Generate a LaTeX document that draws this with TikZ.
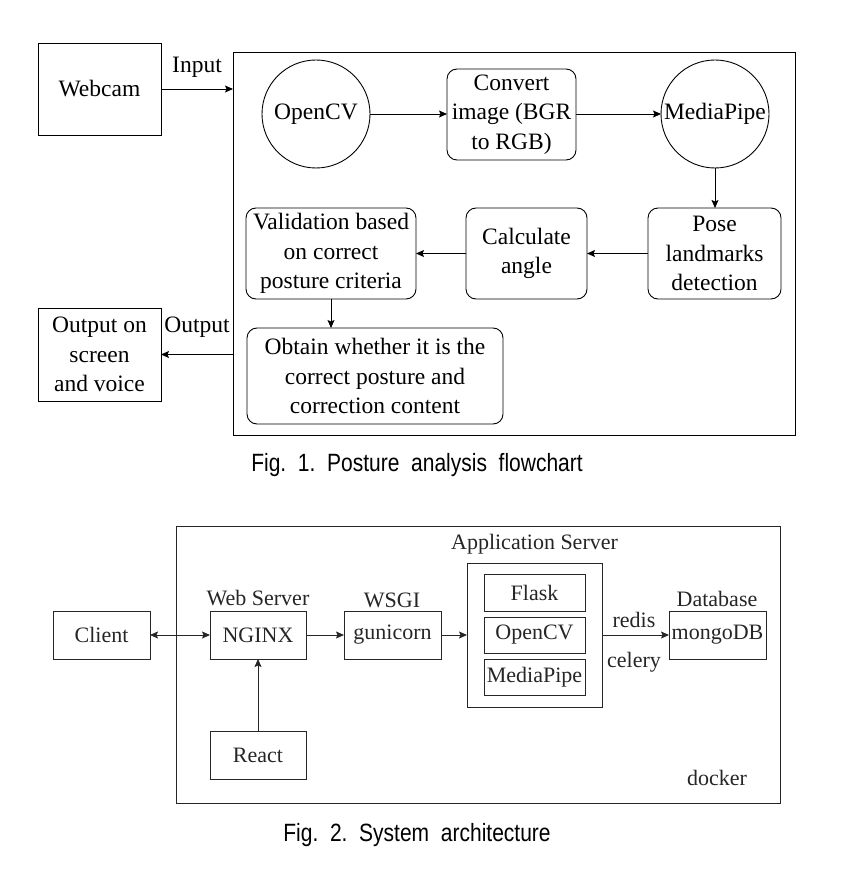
\documentclass[tikz,border=0pt]{standalone}
\usepackage{fontspec}
\setmainfont{Liberation Serif}
\newfontfamily\capfont[FakeStretch=0.84]{Liberation Sans}
\usetikzlibrary{arrows.meta,calc}
\begin{document}
\begin{tikzpicture}[x=1pt,y=-1pt,
  every node/.style={inner sep=0pt, outer sep=0pt},
  fa/.style={font=\fontsize{23.5}{29.5}\selectfont, align=center},
  fb/.style={font=\fontsize{22}{26}\selectfont, text=black!85},
  sq/.style={draw, line width=0.9pt, fa},
  rbox/.style={draw, line width=0.9pt, rounded corners=10pt, fa},
  circ/.style={draw, circle, line width=0.9pt, minimum size=108pt, fa},
  bx/.style={draw=black!85, line width=1pt, fb},
  arr/.style={line width=0.9pt, -{Stealth[length=8pt,width=7pt,inset=1.5pt]}},
  darr/.style={line width=1pt, {Stealth[length=8pt,width=7pt,inset=1.5pt]}-{Stealth[length=8pt,width=7pt,inset=1.5pt]}},
  figcap/.style={font=\capfont\fontsize{25}{28}\selectfont}
]
\useasboundingbox[fill=white] (0,0) rectangle (850,874);

% ---------- Fig. 1 ----------
\node[sq, minimum width=562pt, minimum height=383pt] (main) at (514,243.5) {};
\node[sq, minimum width=123pt, minimum height=92pt] (webcam) at (99.5,89) {Webcam};
\node[sq, minimum width=123pt, minimum height=93pt] (out) at (99.5,354.5) {Output on\\screen\\and voice};
\node[fa] (inlab) at (197,67) {Input};
\node[fa] (outlab) at (197,327) {Output};

\node[circ] (opencv) at (316,114) {OpenCV};
\node[rbox, minimum width=129pt, minimum height=91pt] (convert) at (511.5,114.5) {Convert\\image (BGR\\to RGB)};
\node[circ] (mediapipe) at (715,114) {MediaPipe};
\node[rbox, minimum width=133pt, minimum height=91pt] (pose) at (714.5,253.5) {Pose\\landmarks\\detection};
\node[rbox, minimum width=121pt, minimum height=91pt] (calc) at (526.5,253.5) {Calculate\\angle};
\node[rbox, minimum width=170pt, minimum height=91pt] (valid) at (331,253.5) {Validation based\\on correct\\posture criteria};
\node[rbox, minimum width=256pt, minimum height=96pt] (obtain) at (375,376) {Obtain whether it is the\\correct posture and\\correction content};

\draw[arr] (webcam.east) -- (webcam.east -| main.west);
\draw[arr] (out.east -| main.west) -- (out.east);
\draw[arr] (opencv.east) -- (opencv.east -| convert.west);
\draw[arr] (convert.east |- mediapipe.west) -- (mediapipe.west);
\draw[arr] (mediapipe.south) -- (mediapipe.south |- pose.north);
\draw[arr] (pose.west) -- (calc.east);
\draw[arr] (calc.west) -- (valid.east);
\draw[arr] (valid.south) -- (valid.south |- obtain.north);

\node[figcap] (cap1) at (417,465) {Fig.\ \ 1.\ \ Posture\ \ analysis\ \ flowchart};

% ---------- Fig. 2 ----------
\node[bx, minimum width=604pt, minimum height=277pt] (docker) at (478,664.5) {};
\node[bx, minimum width=97pt, minimum height=48pt] (client) at (101.5,635) {Client};
\node[bx, minimum width=96pt, minimum height=48pt] (nginx) at (258,635) {NGINX};
\node[bx, minimum width=96pt, minimum height=48pt] (react) at (258,755) {React};
\node[bx, minimum width=97pt, minimum height=48pt] (gunicorn) at (392.5,635) {gunicorn};
\node[bx, minimum width=135pt, minimum height=144pt] (app) at (534.5,635) {};
\node[bx, minimum width=101pt, minimum height=37pt] (flask) at (534.5,592.5) {Flask};
\node[bx, minimum width=101pt, minimum height=36pt] (opencv2) at (534.5,635) {OpenCV};
\node[bx, minimum width=101pt, minimum height=36pt] (mediapipe2) at (534.5,677) {MediaPipe};
\node[bx, minimum width=97pt, minimum height=48pt] (mongo) at (717.5,635) {mongoDB};

\node[fb] (weblab) at (258,598) {Web Server};
\node[fb] (wsgilab) at (392,600) {WSGI};
\node[fb] (applab) at (534.5,544) {Application Server};
\node[fb] (dblab) at (717,599) {Database};
\node[fb] (redislab) at (634,620) {redis};
\node[fb] (celerylab) at (634,662) {celery};
\node[fb] (dockerlab) at (717,778) {docker};

\draw[darr, draw=black!85] (client.east) -- (nginx.west);
\draw[arr, line width=1pt, draw=black!85] (nginx.east) -- (gunicorn.west);
\draw[arr, line width=1pt, draw=black!85] (gunicorn.east) -- (app.west);
\draw[arr, line width=1pt, draw=black!85] (app.east) -- (mongo.west);
\draw[arr, line width=1pt, draw=black!85] (react.north) -- (nginx.south);

\node[figcap] (cap2) at (417,835) {Fig.\ \ 2.\ \ System\ \ architecture};
\end{tikzpicture}
\end{document}
